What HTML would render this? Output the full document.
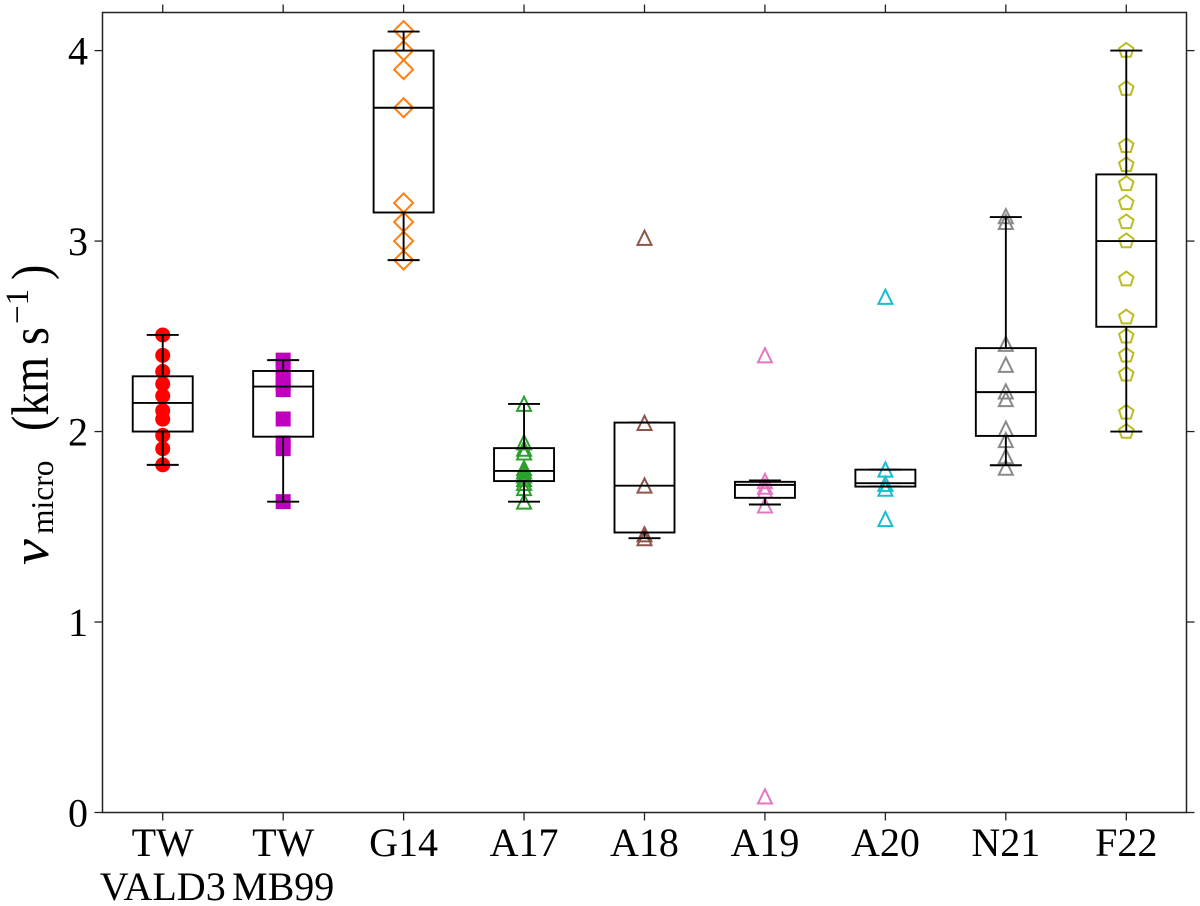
<!DOCTYPE html>
<html>
<head>
<meta charset="utf-8">
<title>Microturbulence comparison</title>
<style>
html,body{margin:0;padding:0;background:#fff;width:1200px;height:906px;overflow:hidden}
svg{display:block;font-family:"Liberation Serif",serif;filter:blur(0.35px)}
</style>
</head>
<body>
<svg id="chart" xmlns="http://www.w3.org/2000/svg" width="1200" height="906" viewBox="0 0 1200 906">
  <rect x="0" y="0" width="1200" height="906" fill="#fff"/>
  <g id="marks"></g>
  <g id="boxes"></g>
  <g id="axes"></g>
  <g fill="#000">
    <text transform="translate(48 565) rotate(-90) scale(1.12 1)" font-size="52" font-style="italic">v</text>
    <text transform="translate(53 534) rotate(-90)" font-size="31.5">micro</text>
    <text transform="translate(48 431) rotate(-90) scale(1 1.15)" font-size="46">(km</text>
    <text transform="translate(48 345) rotate(-90) scale(1 1.15)" font-size="46">s</text>
    <text transform="translate(28 324) rotate(-90)" font-size="33">−1</text>
    <text transform="translate(48 280) rotate(-90) scale(1 1.15)" font-size="46">)</text>
  </g>
</svg>
<script>
const categories = [["TW","VALD3"],["TW","MB99"],["G14"],["A17"],["A18"],["A19"],["A20"],["N21"],["F22"]];
const yTickValues = [0,1,2,3,4];

const valuesTwVald3 = [2.507,2.40,2.315,2.25,2.187,2.11,2.065,1.98,1.91,1.825];
const valuesTwMb99 = [2.375,2.33,2.28,2.25,2.22,2.066,1.94,1.91,1.632];
const valuesG14 = [4.105,4.0,3.9,3.7,3.2,3.1,3.0,2.9];
const valuesA17 = [2.145,1.943,1.91,1.89,1.807,1.79,1.77,1.75,1.73,1.703,1.632];
const valuesA18 = [3.017,2.045,1.716,1.46,1.44];
const valuesA19 = [2.40,1.74,1.71,1.69,1.612,0.084];
const valuesA20 = [2.707,1.80,1.725,1.70,1.54];
const valuesN21 = [3.13,3.10,2.46,2.35,2.21,2.17,2.014,1.955,1.87,1.81];
const valuesF22 = [4.0,3.8,3.5,3.4,3.3,3.2,3.1,3.0,2.8,2.6,2.5,2.4,2.3,2.1,2.0];

const whiskerLow = [1.825,1.632,2.9,1.632,1.44,1.617,1.711,1.823,2.0];
const boxQ1 = [2.0,1.973,3.15,1.74,1.47,1.652,1.711,1.977,2.55];
const boxMedian = [2.15,2.236,3.7,1.793,1.716,1.72,1.729,2.207,3.0];
const boxQ3 = [2.29,2.318,4.0,1.913,2.047,1.736,1.80,2.438,3.35];
const whiskerHigh = [2.507,2.375,4.1,2.145,2.047,1.743,1.80,3.126,4.0];

const seriesValues = [valuesTwVald3,valuesTwMb99,valuesG14,valuesA17,valuesA18,valuesA19,valuesA20,valuesN21,valuesF22];
const seriesColors = ["#ff0000","#bf00bf","#ff7f0e","#2ca02c","#8c564b","#e377c2","#17becf","#8a8a8a","#bcbd22"];
const seriesMarkers = ["circle","square","diamond","triangle","triangle","triangle","triangle","triangle","pentagon"];

const NS = "http://www.w3.org/2000/svg";
const plot = {left:102.5, right:1186.5, top:12.5, bottom:812.5, xMin:0.5, xMax:9.5, yMin:0, yMax:4.2};
function xScale(i){ return plot.left + (i + 1 - plot.xMin) * (plot.right - plot.left) / (plot.xMax - plot.xMin); }
function yScale(v){ return plot.bottom - (v - plot.yMin) * (plot.bottom - plot.top) / (plot.yMax - plot.yMin); }
function make(tag, attrs, parent){
  const el = document.createElementNS(NS, tag);
  for (const k in attrs) el.setAttribute(k, attrs[k]);
  parent.appendChild(el);
  return el;
}
function markerPoints(kind, x, y){
  if (kind === "triangle") return [[x,y-7.2],[x-7,y+7],[x+7,y+7]];
  if (kind === "diamond") return [[x,y-9.5],[x+9.5,y],[x,y+9.5],[x-9.5,y]];
  const pts = [];
  const r = 7.6;
  for (let k = 0; k < 5; k++){
    const a = -Math.PI/2 + k * 2 * Math.PI / 5;
    pts.push([x + r*Math.cos(a), y + r*Math.sin(a)]);
  }
  return pts;
}
const marksG = document.getElementById("marks");
const boxesG = document.getElementById("boxes");
const axesG = document.getElementById("axes");

seriesValues.forEach(function(vals, i){
  const kind = seriesMarkers[i];
  const color = seriesColors[i];
  const x = xScale(i);
  vals.forEach(function(v){
    const y = yScale(v);
    let m;
    if (kind === "circle"){
      m = make("circle", {cx:x, cy:y, r:7.5, fill:color}, marksG);
    } else if (kind === "square"){
      m = make("rect", {x:x-7.5, y:y-7.5, width:15, height:15, fill:color}, marksG);
    } else {
      m = make("polygon", {points:markerPoints(kind,x,y).map(function(p){return p.join(",");}).join(" "), fill:"none", stroke:color, "stroke-width":2}, marksG);
    }
    
    
  });
});

categories.forEach(function(cat, i){
  const x = xScale(i);
  const halfBox = 30;
  const halfCap = 16;
  const g = make("g", {fill:"none", stroke:"#000", "stroke-width":1.9}, boxesG);
  
  
  const box = make("rect", {x:x-halfBox, y:yScale(boxQ3[i]), width:halfBox*2, height:yScale(boxQ1[i])-yScale(boxQ3[i])}, g);
  
  
  const med = make("line", {x1:x-halfBox, x2:x+halfBox, y1:yScale(boxMedian[i]), y2:yScale(boxMedian[i])}, g);
  
  
  const wl = make("line", {x1:x, x2:x, y1:yScale(boxQ1[i]), y2:yScale(whiskerLow[i])}, g);
  
  
  const wh = make("line", {x1:x, x2:x, y1:yScale(boxQ3[i]), y2:yScale(whiskerHigh[i])}, g);
  
  
  const cl = make("line", {x1:x-halfCap, x2:x+halfCap, y1:yScale(whiskerLow[i]), y2:yScale(whiskerLow[i])}, g);
  
  
  const ch = make("line", {x1:x-halfCap, x2:x+halfCap, y1:yScale(whiskerHigh[i]), y2:yScale(whiskerHigh[i])}, g);
  
  

  const t1 = make("line", {x1:x, x2:x, y1:plot.bottom, y2:plot.bottom+8, stroke:"#222", "stroke-width":1.3}, axesG);
  
  
  const t2 = make("line", {x1:x, x2:x, y1:plot.top, y2:plot.top-8, stroke:"#222", "stroke-width":1.3}, axesG);
  
  
  cat.forEach(function(line, k){
    const t = make("text", {x:x, y:856 + k*44, "text-anchor":"middle", "font-size":40, fill:"#000"}, axesG);
    
    
    t.textContent = line;
  });
});

yTickValues.forEach(function(v){
  const y = yScale(v);
  const a = make("line", {x1:plot.left-8, x2:plot.left, y1:y, y2:y, stroke:"#222", "stroke-width":1.3}, axesG);
  
  
  const b = make("line", {x1:plot.right, x2:plot.right+8, y1:y, y2:y, stroke:"#222", "stroke-width":1.3}, axesG);
  
  
  const t = make("text", {x:88, y:y+14, "text-anchor":"end", "font-size":40, fill:"#000"}, axesG);
  
  
  t.textContent = String(v);
});

const frame = make("rect", {x:plot.left, y:plot.top, width:plot.right-plot.left, height:plot.bottom-plot.top, fill:"none", stroke:"#222", "stroke-width":1.5}, axesG);


</script>
</body>
</html>
